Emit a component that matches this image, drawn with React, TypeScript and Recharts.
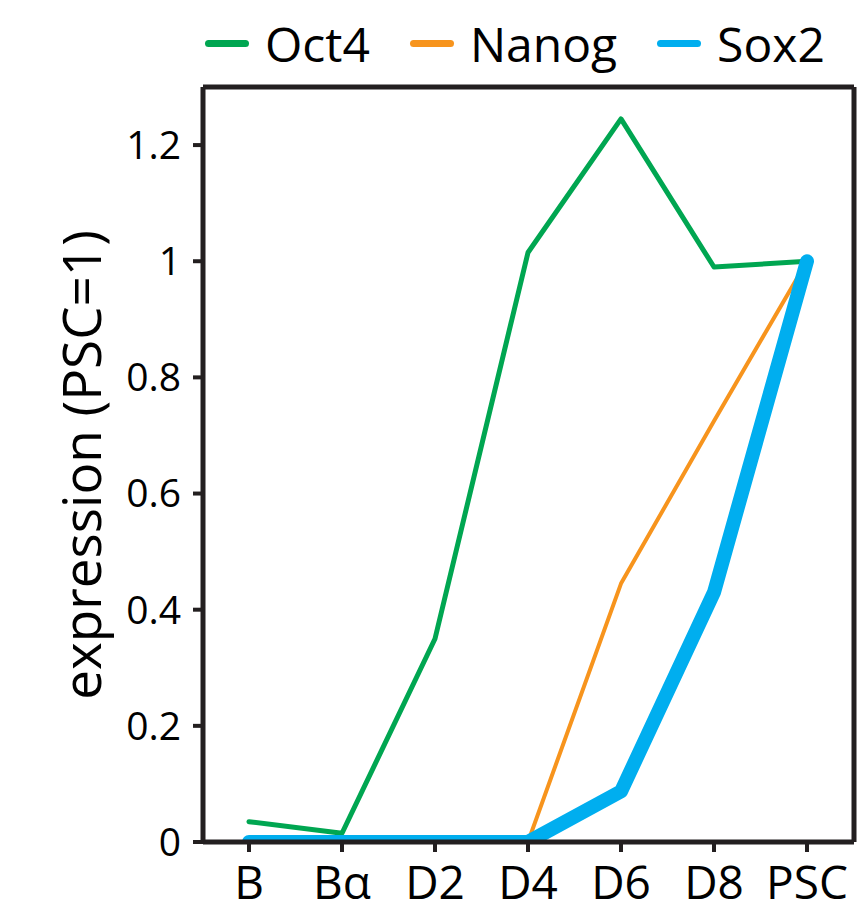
import React from 'react';
import {
  LineChart,
  Line,
  XAxis,
  YAxis,
  Legend,
} from 'recharts';

const stages = ['B', 'Bα', 'D2', 'D4', 'D6', 'D8', 'PSC'];
const oct4 = [0.035, 0.015, 0.35, 1.015, 1.245, 0.99, 1.0];
const nanog = [0, 0, 0, 0, 0.445, 0.725, 1.0];
const sox2 = [0, 0, 0, 0, 0.087, 0.43, 1.0];
const yTicks = [0, 0.2, 0.4, 0.6, 0.8, 1, 1.2];

const series = [
  { key: 'Oct4', color: '#00a651', width: 5 },
  { key: 'Nanog', color: '#f7941d', width: 4 },
  { key: 'Sox2', color: '#00aeef', width: 14 },
];

const data = stages.map((stage, i) => ({
  stage,
  Oct4: oct4[i],
  Nanog: nanog[i],
  Sox2: sox2[i],
}));

const FONT = '"Open Sans", "DejaVu Sans", sans-serif';
const AXIS = '#231f20';
const X_PAD = { left: 46, right: 47 };

const LegendRow = () => (
  <div
    style={{
      height: 86,
      display: 'flex',
      alignItems: 'center',
      paddingLeft: 205,
      fontFamily: FONT,
      fontSize: 48,
      color: '#000',
      boxSizing: 'border-box',
    }}
  >
    {series.map((s) => (
      <div key={s.key} style={{ display: 'flex', alignItems: 'center', marginRight: 40 }}>
        <span
          style={{
            display: 'inline-block',
            width: 44,
            height: 7,
            borderRadius: 4,
            background: s.color,
            marginRight: 16,
          }}
        />
        <span>{s.key}</span>
      </div>
    ))}
  </div>
);

const YLabel = () => (
  <text
    x={80}
    y={465}
    transform="rotate(-90, 80, 465)"
    textAnchor="middle"
    dominantBaseline="central"
    fontFamily={FONT}
    fontSize={53}
    fill="#000"
  >
    expression (PSC=1)
  </text>
);

export default function App() {
  return (
    <div style={{ position: 'absolute', left: 0, top: 0 }}>
      <LineChart
        width={860}
        height={919}
        data={data}
        margin={{ top: 0, right: 5, bottom: 0, left: 0 }}
      >
        <Legend
          verticalAlign="top"
          align="left"
          content={() => <LegendRow />}
          wrapperStyle={{ left: 0, top: 0, width: 860, height: 86 }}
        />
        <XAxis
          dataKey="stage"
          height={77}
          padding={X_PAD}
          axisLine={{ stroke: AXIS, strokeWidth: 5 }}
          tickLine={{ stroke: AXIS, strokeWidth: 4 }}
          tickSize={10}
          tickMargin={14}
          tick={{ fill: '#000', fontSize: 46, fontFamily: FONT }}
          interval={0}
        />
        <XAxis
          xAxisId="top"
          dataKey="stage"
          orientation="top"
          height={1}
          padding={X_PAD}
          tick={false}
          tickLine={false}
          axisLine={{ stroke: AXIS, strokeWidth: 5 }}
        />
        <YAxis
          width={203}
          domain={[0, 1.3]}
          ticks={yTicks}
          allowDataOverflow
          axisLine={{ stroke: AXIS, strokeWidth: 5 }}
          tickLine={{ stroke: AXIS, strokeWidth: 4 }}
          tickSize={10}
          tickMargin={12}
          tick={{ fill: '#000', fontSize: 39, fontFamily: FONT }}
          label={<YLabel />}
        />
        <YAxis
          yAxisId="right"
          orientation="right"
          width={1}
          domain={[0, 1.3]}
          allowDataOverflow
          tick={false}
          tickLine={false}
          axisLine={{ stroke: AXIS, strokeWidth: 5 }}
        />
        {/* invisible series so the frame axes get drawn */}
        <Line
          xAxisId="top"
          yAxisId="right"
          dataKey="Oct4"
          stroke="none"
          dot={false}
          activeDot={false}
          legendType="none"
          isAnimationActive={false}
        />
        {series.map((s) => (
          <Line
            key={s.key}
            type="linear"
            dataKey={s.key}
            stroke={s.color}
            strokeWidth={s.width}
            strokeLinecap="round"
            strokeLinejoin="round"
            dot={false}
            activeDot={false}
            isAnimationActive={false}
          />
        ))}
      </LineChart>
    </div>
  );
}
